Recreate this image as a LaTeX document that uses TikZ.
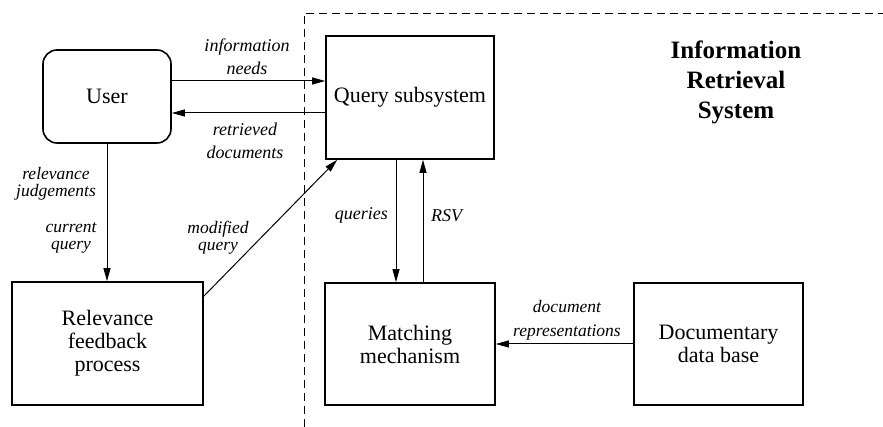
\documentclass[tikz,border=0pt]{standalone}
\usepackage{fontspec}
\setmainfont{Liberation Serif}
\newfontfamily\tms{Liberation Serif}
\usetikzlibrary{arrows.meta}
\begin{document}
\begin{tikzpicture}[x=1pt,y=1pt,
  box/.style={draw,line width=1.6pt,inner sep=0pt,align=center,font=\tms\fontsize{22}{23}\selectfont},
  lbl/.style={font=\tms\fontsize{18}{23}\selectfont\itshape,align=center,inner sep=0pt},
  tight/.style={font=\tms\fontsize{17.5}{17}\selectfont\itshape},
  arr/.style={line width=1pt,-{Triangle[length=13pt,width=7pt]}},
  frame/.style={line width=0.9pt,dash pattern=on 8pt off 5pt}]
\useasboundingbox (0,0) rectangle (883,427);
% boxes
\node[box,rounded corners=14pt,minimum width=128pt,minimum height=93pt] (user) at (107,330.5) {User};
\node[box,minimum width=168pt,minimum height=123pt] (query) at (410,329.5) {Query subsystem};
\node[box,minimum width=191pt,minimum height=123pt] (rel) at (107.5,83.5) {Relevance\\feedback\\process};
\node[box,minimum width=170pt,minimum height=122pt] (match) at (410,83) {Matching\\mechanism};
\node[box,minimum width=169pt,minimum height=122pt] (docdb) at (718.5,83) {Documentary\\data base};
% system frame
\coordinate (fb) at (304,0);
\coordinate (ftl) at (304,414);
\coordinate (ftr) at (883,414);
\draw[frame] (fb) -- (ftl) -- (ftr);
\node[font=\tms\fontsize{25}{30}\selectfont\bfseries,align=center,inner sep=0pt] (irs) at (736,344.5) {Information\\Retrieval\\System};
% connectors
\draw[arr] ([yshift=15.5pt]user.east) -- ([yshift=15.5pt]user.east -| query.west);
\draw[arr] ([yshift=-15.5pt]query.west) -- ([yshift=-15.5pt]query.west -| user.east);
\draw[arr] (user.south) -- (user.south |- rel.north);
\draw[arr] ([yshift=-15pt]rel.north east) -- ([xshift=12pt]query.south west);
\draw[arr] ([xshift=-14pt]query.south) -- ([xshift=-14pt]match.north);
\draw[arr] ([xshift=13pt]match.north) -- ([xshift=13pt]query.south);
\draw[arr] (docdb.west) -- (match.east);
% labels
\node[lbl] (l1) at (247,370) {information\\needs};
\node[lbl] (l2) at (245,286) {retrieved\\documents};
\node[lbl,tight] (l3) at (56,243) {relevance\\judgements};
\node[lbl,tight] (l4) at (71,189.5) {current\\query};
\node[lbl,tight] (l5) at (218,189.5) {modified\\query};
\node[lbl,anchor=east] (l6) at (388,211.5) {queries};
\node[lbl,anchor=west] (l7) at (431,211.5) {RSV};
\node[lbl,font=\tms\fontsize{17.5}{24}\selectfont\itshape] (l8) at (567,107) {document\\representations};
\end{tikzpicture}
\end{document}
